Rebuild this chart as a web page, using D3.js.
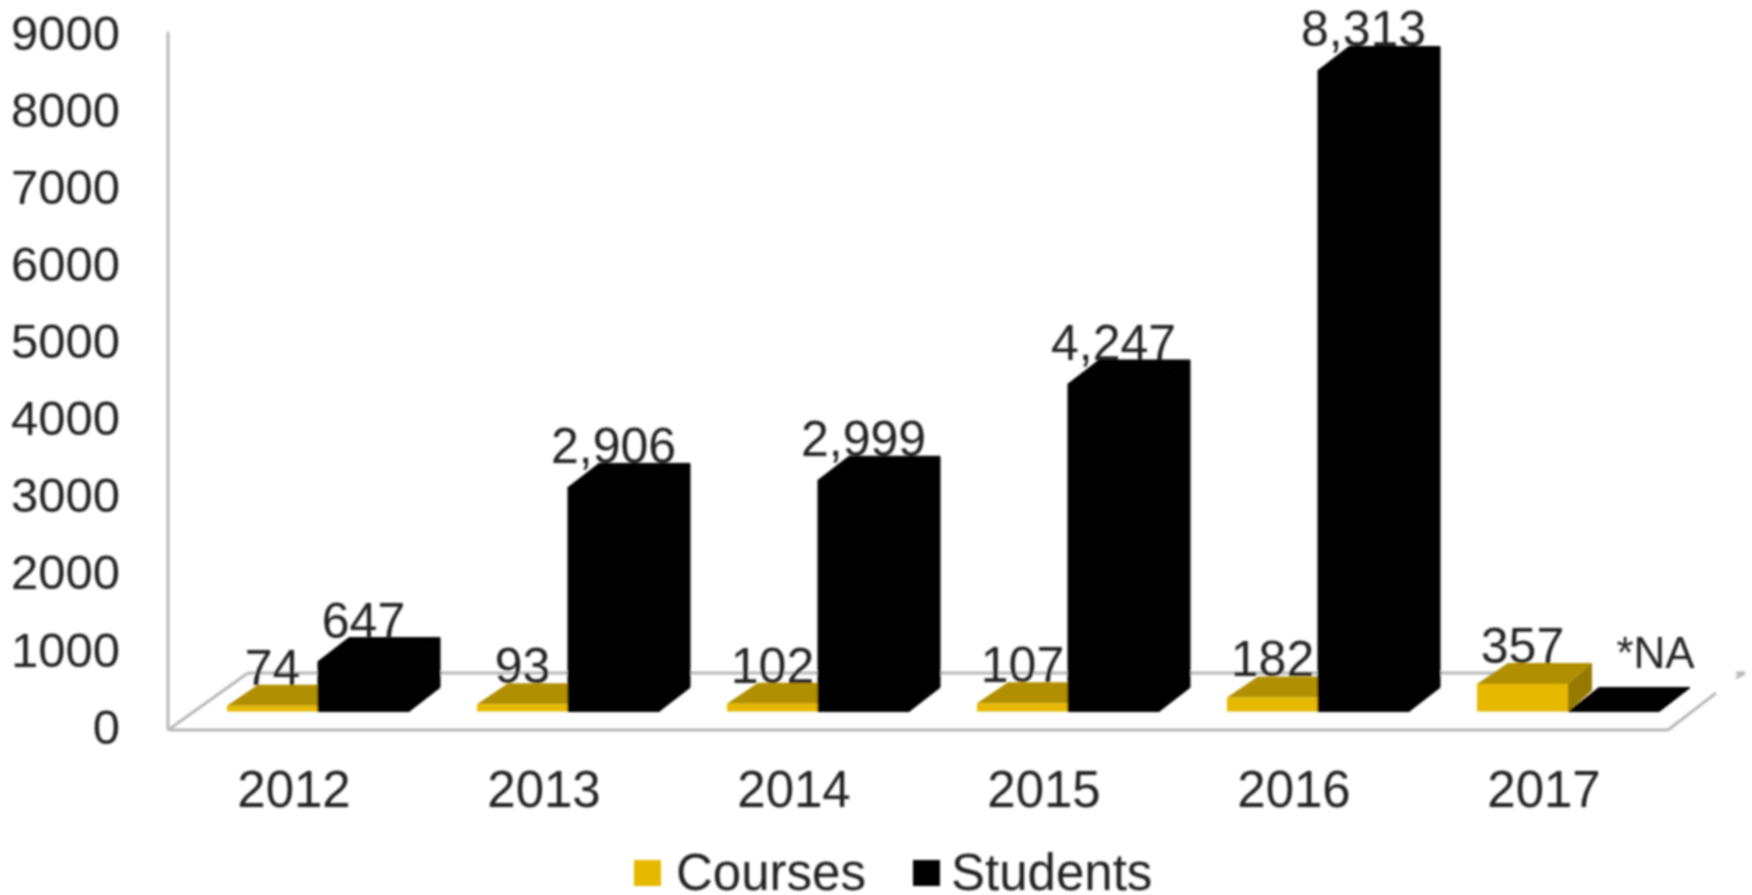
<!DOCTYPE html>
<html>
<head>
<meta charset="utf-8">
<script src="https://cdn.jsdelivr.net/npm/d3@7"></script>
<style>
  html, body { margin: 0; background: #fff; }
  text { font-family: "Liberation Sans", Arial, sans-serif; fill: #222; }
</style>
</head>
<body>
<div id="chart"></div>
<script>
// Values
const years = ["2012", "2013", "2014", "2015", "2016", "2017"];
const courses = [74, 93, 102, 107, 182, 357];
const students = [647, 2906, 2999, 4247, 8313, null];
const yTicks = [0, 1000, 2000, 3000, 4000, 5000, 6000, 7000, 8000, 9000];
const seriesNames = ["Courses", "Students"];
const seriesColors = ["#e6b800", "#000000"];
const topColors = ["#b08f00", "#000000"];
const sideColors = ["#967a00", "#000000"];

// Chart dimensions
const width = 1752;
const height = 895;
const wallX = 168;
const floorRight = 1668;
const floorFront = 730;
const floorBack = 673;
// Depth of the faces per series, the picture's gold boxes are a bit shallower
const depthLeft = [31, 31];
const depthRight = [24, 31];
const depthY = [21, 24];

const svg = d3.select("#chart")
  .append("svg")
  .attr("width", width)
  .attr("height", height)
  .style("display", "block");

// The original is a soft raster, so everything gets a slight blur
svg.append("filter")
  .attr("id", "soft")
  .append("feGaussianBlur")
  .attr("stdDeviation", 0.9);

const chart = svg.append("g").attr("filter", "url(#soft)");

// Scales
const yRange = d3.scaleLinear().domain([0, 9000]).range([711.5, 17.5]);
const xLabels = d3.scaleBand().domain(years).range([wallX, floorRight]);
const xRange = d3.scaleBand()
  .domain(years)
  .range([wallX + 25, floorRight + 25])
  .paddingInner(0.272)
  .paddingOuter(0.136);
const xSeries = d3.scaleBand().domain([0, 1]).range([0, xRange.bandwidth()]);

// Frame of the 3D box
const frameColor = "#b8b8b8";
const frame = [
  [[wallX, yRange(9000) + 14], [wallX, floorFront]],
  [[wallX, floorFront], [floorRight, floorFront]],
  [[wallX, floorFront], [wallX + 80, floorBack]],
  [[wallX + 80, floorBack], [1500, floorBack]],
  [[floorRight, floorFront], [1716, 693]],
  [[1736, 678], [1745, floorBack]],
  [[1736, floorBack], [1745, floorBack]]
];
chart.append("g")
  .selectAll("path")
  .data(frame)
  .join("path")
  .attr("d", d3.line())
  .attr("fill", "none")
  .attr("stroke", frameColor)
  .attr("stroke-width", 3);

// Y axis
const yAxis = d3.axisLeft(yRange).tickValues(yTicks).tickFormat(d => d).tickSize(0).tickPadding(0);
chart.append("g")
  .attr("transform", "translate(120,16)")
  .call(yAxis)
  .call(g => g.select(".domain").remove())
  .selectAll("text")
  .style("font-size", "49px");

// X axis
const xAxis = d3.axisBottom(xLabels).tickSize(0).tickPadding(0);
chart.append("g")
  .attr("transform", "translate(1,771)")
  .call(xAxis)
  .call(g => g.select(".domain").remove())
  .selectAll("text")
  .style("font-size", "51px");

// One row per bar, short bars first so the taller one covers them
const bars = [];
years.forEach((year, i) => {
  const pair = [
    { year: year, series: 0, value: courses[i] },
    { year: year, series: 1, value: students[i] }
  ];
  pair.sort((a, b) => (a.value || 0) - (b.value || 0));
  bars.push(...pair);
});

const bar = chart.append("g")
  .selectAll("g")
  .data(bars)
  .join("g");

const barLeft = d => xRange(d.year) + xSeries(d.series);
const barRight = d => barLeft(d) + xSeries.bandwidth();
const barTop = d => yRange(d.value || 0);
const polygon = pts => pts.map(p => p.join(",")).join(" ");

// Top face
bar.append("polygon")
  .attr("points", d => polygon([
    [barLeft(d), barTop(d)],
    [barLeft(d) + depthLeft[d.series], barTop(d) - depthY[d.series]],
    [barRight(d) + depthRight[d.series], barTop(d) - depthY[d.series]],
    [barRight(d), barTop(d)]
  ]))
  .attr("fill", d => topColors[d.series]);

// Side face
bar.append("polygon")
  .attr("points", d => polygon([
    [barRight(d), barTop(d)],
    [barRight(d) + depthRight[d.series], barTop(d) - depthY[d.series]],
    [barRight(d) + depthRight[d.series], yRange(0) - depthY[d.series]],
    [barRight(d), yRange(0)]
  ]))
  .attr("fill", d => sideColors[d.series]);

// Front face
bar.append("rect")
  .attr("x", barLeft)
  .attr("y", barTop)
  .attr("width", xSeries.bandwidth())
  .attr("height", d => yRange(0) - barTop(d))
  .attr("fill", d => seriesColors[d.series]);

// Hide the seams between the black faces
bar.filter(d => d.series === 1).selectAll("polygon, rect")
  .attr("stroke", "#000")
  .attr("stroke-width", 1);

// Value labels go on top of every bar
chart.append("g")
  .selectAll("text")
  .data(bars)
  .join("text")
  .attr("x", d => barLeft(d) + xSeries.bandwidth() / 2 + (d.value === null ? 42 : 0))
  .attr("y", d => barTop(d) - depthY[d.series] + (d.value === null ? -20 : 0))
  .attr("text-anchor", "middle")
  .style("font-size", d => d.value === null ? "44px" : "50px")
  .text(d => d.value === null ? "*NA" : d3.format(",")(d.value));

// Legend
const legendX = [634, 913];
const legend = chart.append("g")
  .selectAll("g")
  .data(seriesNames)
  .join("g")
  .attr("transform", (d, i) => "translate(" + legendX[i] + ",860)");

legend.append("rect")
  .attr("width", 27)
  .attr("height", 26)
  .attr("fill", (d, i) => seriesColors[i]);

legend.append("text")
  .attr("x", (d, i) => i === 0 ? 42 : 38)
  .attr("y", 30)
  .style("font-size", "51px")
  .text(d => d);
</script>
</body>
</html>
